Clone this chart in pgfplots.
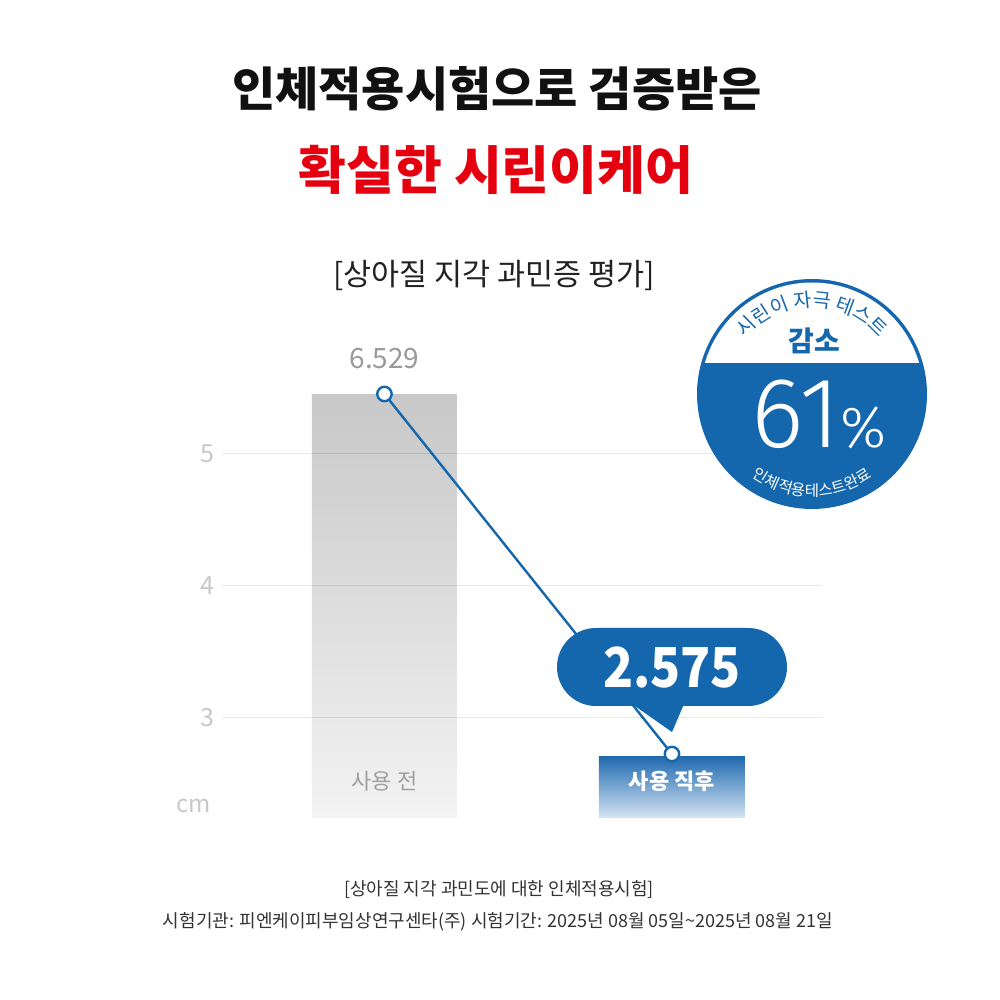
\documentclass[border=0pt]{standalone}
\usepackage{pgfplots}
\pgfplotsset{compat=1.18}
\usepackage{fontspec}
\setmainfont{Noto Sans CJK KR}
\newfontfamily\thinfont{Fira Sans Light}
\usetikzlibrary{decorations.text}
\definecolor{cblue}{HTML}{1467AD}
\definecolor{cred}{HTML}{E5000F}
\definecolor{ctitle}{HTML}{111111}
\definecolor{csub}{HTML}{222222}
\definecolor{cfoot}{HTML}{333333}
\definecolor{ctick}{HTML}{C8C8C8}
\definecolor{cval}{HTML}{9A9A9A}
\definecolor{ccat}{HTML}{A0A0A0}
\definecolor{cbarAt}{HTML}{C8C8C8}
\definecolor{cbarAb}{HTML}{F3F3F3}
\definecolor{cbarBt}{HTML}{1F69AE}
\definecolor{cbarBb}{HTML}{D4E4F3}
\begin{document}
\begin{tikzpicture}[x=1pt,y=1pt]
\fill[white] (0,0) rectangle (1000,1000);
% titles
\node[text=ctitle, font=\fontsize{47}{52}\selectfont\bfseries] at (497,911) {인체적용시험으로 검증받은};
\node[text=cred, font=\fontsize{52}{56}\selectfont\bfseries] at (496,830) {확실한 시린이케어};
\node[text=csub, font=\fontsize{30.5}{32}\selectfont] at (494,725) {[상아질 지각 과민증 평가]};

\begin{axis}[
  at={(222pt,182pt)}, anchor=south west,
  x=287.5pt, y=132pt,
  xmin=-0.565, xmax=1.522, ymin=2.2424, ymax=5.7,
  axis line style={draw=none},
  major tick length=0pt,
  xtick=\empty, ytick={3,4,5},
  ymajorgrids, axis on top,
  grid style={draw=black, opacity=0.09, line width=1pt},
  yticklabel style={text=ctick, anchor=east, inner sep=0pt, xshift=-7pt,
    font=\fontsize{25}{25}\selectfont, /pgf/number format/assume math mode=true},
  clip=false,
]
% bars (before / after), drawn from the axis baseline
\addplot[draw=none, top color=cbarAt, bottom color=cbarAb]
  coordinates {(-0.2522,2.2424) (-0.2522,5.447) (0.2522,5.447) (0.2522,2.2424)};
\addplot[draw=none, top color=cbarBt, bottom color=cbarBb]
  coordinates {(0.7461,2.2424) (0.7461,2.712) (1.2539,2.712) (1.2539,2.2424)};
% line
\addplot[cblue, line width=2.4pt, mark=*, mark size=7.2pt,
  mark options={fill=white, draw=cblue, line width=2.4pt}]
  coordinates {(0,5.4545) (1,2.727)};
\node[text=cval, font=\fontsize{28}{28}\selectfont] at (axis cs:0,5.727) {6.529};
\node[text=ccat, font=\fontsize{22}{22}\selectfont] at (axis cs:0,2.523) {사용 전};
\node[text=white, font=\fontsize{22}{22}\selectfont\bfseries] at (axis cs:1,2.523) {사용 직후};
\node[text=ctick, font=\fontsize{24}{24}\selectfont] at (axis cs:-0.663,2.333) {cm};
\end{axis}

% callout
\fill[cblue, rounded corners=38.9pt] (557,294) rectangle (787,372);
\fill[cblue] (632,296) -- (684,296) -- (672,268) -- cycle;
\node[text=white, font=\fontsize{55}{55}\selectfont\bfseries, xscale=0.9] at (672,332) {2.575};

% badge
\fill[cblue] (812,606) circle (115);
\begin{scope}
  \clip (812,606) circle (111.5);
  \fill[white] (690,637) rectangle (935,730);
\end{scope}
\node[text=cblue, font=\fontsize{28}{28}\selectfont\bfseries] at (814,659) {감소};
\node[text=white, anchor=base, inner sep=0pt] at (819,552)
  {\thinfont\fontsize{100}{100}\selectfont 61\fontsize{58}{58}\selectfont\%};
\path[decorate, decoration={text along path, text align=center, text color=cblue,
  text={|\fontsize{19.5}{19.5}\selectfont|시린이 자극 테스트}}]
  (812,606) ++(160:87) arc[start angle=160, end angle=20, radius=87];
\path[decorate, decoration={text along path, text align=center, text color=white,
  text={|\fontsize{15.5}{15.5}\selectfont|인체적용테스트완료}}]
  (812,606) ++(200:102) arc[start angle=200, end angle=340, radius=102];

% footnotes
\node[text=cfoot, font=\fontsize{18}{18}\selectfont] at (499,110) {[상아질 지각 과민도에 대한 인체적용시험]};
\node[text=cfoot, font=\fontsize{18}{18}\selectfont] at (498,78) {시험기관: 피엔케이피부임상연구센타(주) 시험기간: 2025년 08월 05일\textasciitilde 2025년 08월 21일};

\pgfresetboundingbox
\path (0,0) rectangle (1000,1000);
\end{tikzpicture}
\end{document}
